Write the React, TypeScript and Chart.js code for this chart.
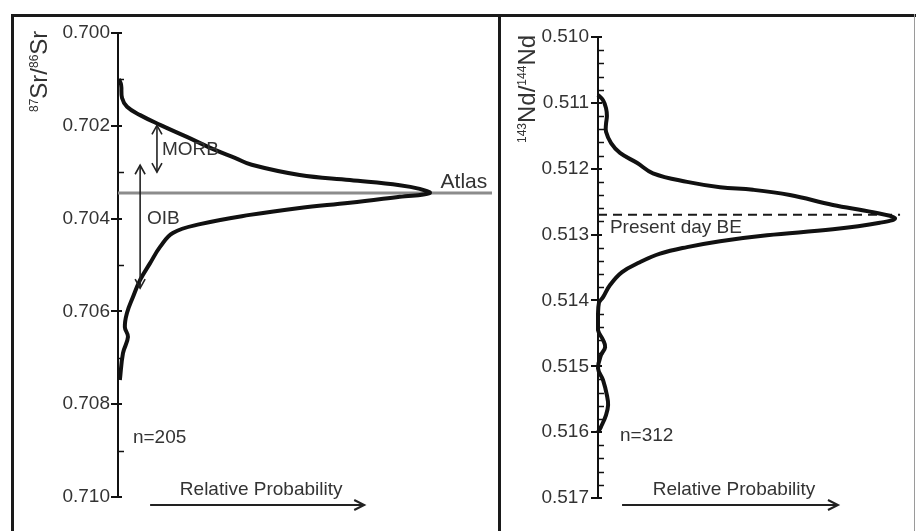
import React, { useEffect, useRef } from 'react';
import { Chart, registerables } from 'chart.js';

Chart.register(...registerables);

const FONT = '"Liberation Sans", Arial, Helvetica, sans-serif';
const TEXT = '#333';
const INK = '#111';

// ---------- Left panel: 87Sr/86Sr ----------
const srRatio = [
  0.70099, 0.70112, 0.7014, 0.70159, 0.70177, 0.70198, 0.70224, 0.70252, 0.70269, 0.70284,
  0.70306, 0.70317, 0.70328, 0.70336, 0.70345, 0.70353, 0.70366, 0.70377, 0.70392, 0.70412,
  0.70431, 0.70461, 0.70496, 0.70532, 0.70569, 0.70603, 0.70634, 0.70655, 0.7069, 0.70748,
];
const srProb = [
  0.003, 0.01, 0.013, 0.029, 0.071, 0.135, 0.221, 0.311, 0.375, 0.429,
  0.583, 0.744, 0.904, 0.968, 1.0, 0.904, 0.744, 0.583, 0.423, 0.263,
  0.176, 0.135, 0.103, 0.071, 0.048, 0.029, 0.022, 0.032, 0.016, 0.006,
];
const srMajorTicks = [0.7, 0.702, 0.704, 0.706, 0.708, 0.71];
const srMinorTicks = [0.701, 0.703, 0.705, 0.707, 0.709];
const srAtlas = 0.70345;
const srN = 'n=205';

// ---------- Right panel: 143Nd/144Nd ----------
const ndRatio = [
  0.51088, 0.51096, 0.51108, 0.5112, 0.51132, 0.51144, 0.51161, 0.51176, 0.51191, 0.51207,
  0.5122, 0.51228, 0.51232, 0.5124, 0.51255, 0.51266, 0.51275, 0.51282, 0.51292, 0.51301,
  0.5131, 0.51319, 0.51329, 0.51342, 0.51357, 0.51377, 0.51395, 0.51404, 0.51422, 0.51445,
  0.5146, 0.51471, 0.51483, 0.51503, 0.51521, 0.51544, 0.51559, 0.51574, 0.51592, 0.516,
];
const ndProb = [
  0, 0.017, 0.027, 0.03, 0.027, 0.027, 0.044, 0.074, 0.131, 0.185,
  0.3, 0.411, 0.522, 0.646, 0.791, 0.926, 1.0, 0.949, 0.791, 0.569,
  0.411, 0.3, 0.209, 0.141, 0.081, 0.04, 0.017, 0.003, 0, 0,
  0.017, 0.024, 0.01, 0, 0.017, 0.03, 0.034, 0.027, 0.01, 0,
];
const ndMajorTicks = [0.51, 0.511, 0.512, 0.513, 0.514, 0.515, 0.516, 0.517];
const ndMinorTicks = [
  0.5102, 0.5104, 0.5106, 0.5108, 0.5112, 0.5114, 0.5116, 0.5118,
  0.5122, 0.5124, 0.5126, 0.5128, 0.5132, 0.5134, 0.5136, 0.5138,
  0.5142, 0.5144, 0.5146, 0.5148, 0.5152, 0.5154, 0.5156, 0.5158,
  0.5162, 0.5164, 0.5166, 0.5168,
];
const ndBE = 0.5127;
const ndN = 'n=312';

type Label = { text: string; x: number; y: number; size: number; align?: CanvasTextAlign };
type VArrow = { x: number; y0: number; y1: number };
type TitlePart = { t: string; sup: boolean };

type PanelCfg = {
  major: number[];
  minor: number[];
  labels: Label[];
  arrows: VArrow[];
  probArrow: { x0: number; x1: number; y: number; textY: number };
  title: { parts: TitlePart[]; baseX: number; startY: number };
};

function arrowHead(ctx: CanvasRenderingContext2D, x: number, y: number, dx: number, dy: number, len: number, half: number) {
  const px = -dy, py = dx;
  ctx.beginPath();
  ctx.moveTo(x - dx * len + px * half, y - dy * len + py * half);
  ctx.lineTo(x, y);
  ctx.lineTo(x - dx * len - px * half, y - dy * len - py * half);
  ctx.stroke();
}

function makeDecor(cfg: PanelCfg) {
  return {
    id: 'decor',
    afterDraw(chart: any) {
      const { ctx, chartArea } = chart;
      const xs = chart.scales.x;
      const ys = chart.scales.y;
      const ax = chartArea.left;
      ctx.save();
      ctx.lineCap = 'butt';
      // tick marks
      ctx.strokeStyle = INK;
      ctx.lineWidth = 2;
      cfg.major.forEach((v) => {
        const py = Math.round(ys.getPixelForValue(v));
        ctx.beginPath();
        ctx.moveTo(ax - 7, py);
        ctx.lineTo(ax + 4, py);
        ctx.stroke();
      });
      ctx.lineWidth = 1.5;
      cfg.minor.forEach((v) => {
        const py = Math.round(ys.getPixelForValue(v)) + 0.5;
        ctx.beginPath();
        ctx.moveTo(ax - 1, py);
        ctx.lineTo(ax + 6, py);
        ctx.stroke();
      });

      // vertical double arrows
      ctx.strokeStyle = '#222';
      ctx.lineWidth = 1.6;
      cfg.arrows.forEach((a) => {
        const px = xs.getPixelForValue(a.x);
        const p0 = ys.getPixelForValue(a.y0);
        const p1 = ys.getPixelForValue(a.y1);
        ctx.beginPath();
        ctx.moveTo(px, p0);
        ctx.lineTo(px, p1);
        ctx.stroke();
        arrowHead(ctx, px, p0, 0, -1, 9, 5);
        arrowHead(ctx, px, p1, 0, 1, 9, 5);
      });

      // text labels
      ctx.fillStyle = TEXT;
      ctx.textBaseline = 'middle';
      cfg.labels.forEach((l) => {
        ctx.font = `${l.size}px ${FONT}`;
        ctx.textAlign = l.align || 'left';
        ctx.fillText(l.text, xs.getPixelForValue(l.x), ys.getPixelForValue(l.y));
      });

      // relative probability arrow
      const pa = cfg.probArrow;
      const ax0 = xs.getPixelForValue(pa.x0);
      const ax1 = xs.getPixelForValue(pa.x1);
      const ay = Math.round(ys.getPixelForValue(pa.y));
      ctx.strokeStyle = '#222';
      ctx.lineWidth = 2;
      ctx.beginPath();
      ctx.moveTo(ax0, ay);
      ctx.lineTo(ax1, ay);
      ctx.stroke();
      arrowHead(ctx, ax1, ay, 1, 0, 10, 5);
      ctx.font = `19px ${FONT}`;
      ctx.textAlign = 'center';
      ctx.fillText('Relative Probability', (ax0 + ax1) / 2 + 4, ys.getPixelForValue(pa.textY));

      // rotated axis title with superscripts
      const t = cfg.title;
      ctx.translate(t.baseX, t.startY);
      ctx.rotate(-Math.PI / 2);
      ctx.textAlign = 'left';
      ctx.textBaseline = 'alphabetic';
      let pos = 0;
      t.parts.forEach((p) => {
        ctx.font = p.sup ? `12px ${FONT}` : `24px ${FONT}`;
        ctx.fillText(p.t, pos, p.sup ? -9 : 0);
        pos += ctx.measureText(p.t).width;
      });
      ctx.restore();
    },
  };
}

function buildChart(
  canvas: HTMLCanvasElement,
  ratio: number[],
  prob: number[],
  refLine: { y: number; xMax: number; color: string; width: number; dash: number[] },
  axis: { min: number; max: number; xMax: number; width: number; pad: { top: number; right: number; bottom: number }; labelPad: number; major: number[] },
  cfg: PanelCfg,
) {
  return new Chart(canvas, {
    type: 'scatter',
    data: {
      datasets: [
        {
          data: ratio.map((y, i) => ({ x: prob[i], y })),
          showLine: true,
          borderColor: INK,
          borderWidth: 4,
          pointRadius: 0,
          tension: 0.4,
          clip: false,
        } as any,
        {
          data: [
            { x: 0, y: refLine.y },
            { x: refLine.xMax, y: refLine.y },
          ],
          showLine: true,
          borderColor: refLine.color,
          borderWidth: refLine.width,
          borderDash: refLine.dash,
          pointRadius: 0,
          clip: false,
        } as any,
      ],
    },
    options: {
      animation: false,
      responsive: false,
      devicePixelRatio: 1,
      events: [],
      layout: { padding: { left: 0, top: axis.pad.top, right: axis.pad.right, bottom: axis.pad.bottom } },
      plugins: { legend: { display: false }, tooltip: { enabled: false } },
      scales: {
        x: { type: 'linear', display: false, min: 0, max: axis.xMax },
        y: {
          type: 'linear',
          reverse: true,
          min: axis.min,
          max: axis.max,
          afterFit: (s: any) => {
            s.width = axis.width;
          },
          afterBuildTicks: (s: any) => {
            s.ticks = axis.major.map((v) => ({ value: v }));
          },
          ticks: {
            font: { size: 19, family: FONT },
            color: TEXT,
            padding: axis.labelPad,
            callback: (v: any) => Number(v).toFixed(3),
          },
          grid: { display: false, drawTicks: false, tickLength: 0 },
          border: { display: true, color: INK, width: 2 },
        },
      },
    } as any,
    plugins: [makeDecor(cfg)],
  });
}

export default function App() {
  const leftRef = useRef<HTMLCanvasElement>(null);
  const rightRef = useRef<HTMLCanvasElement>(null);

  useEffect(() => {
    const left = buildChart(
      leftRef.current!,
      srRatio,
      srProb,
      { y: srAtlas, xMax: 1.2, color: '#8c8c8c', width: 3, dash: [] },
      { min: 0.7, max: 0.71, xMax: 1.2, width: 118, pad: { top: 33, right: 8, bottom: 34 }, labelPad: 8, major: srMajorTicks },
      {
        major: srMajorTicks,
        minor: srMinorTicks,
        labels: [
          { text: 'MORB', x: 0.141, y: 0.70252, size: 19 },
          { text: 'OIB', x: 0.093, y: 0.704, size: 19 },
          { text: 'Atlas', x: 1.035, y: 0.70321, size: 21 },
          { text: srN, x: 0.048, y: 0.70873, size: 19 },
        ],
        arrows: [
          { x: 0.125, y0: 0.70199, y1: 0.7030 },
          { x: 0.071, y0: 0.70285, y1: 0.7055 },
        ],
        probArrow: { x0: 0.103, x1: 0.79, y: 0.71017, textY: 0.70985 },
        title: {
          parts: [
            { t: '87', sup: true },
            { t: 'Sr/', sup: false },
            { t: '86', sup: true },
            { t: 'Sr', sup: false },
          ],
          baseX: 47,
          startY: 112,
        },
      },
    );
    const right = buildChart(
      rightRef.current!,
      ndRatio,
      ndProb,
      { y: ndBE, xMax: 1.017, color: '#1a1a1a', width: 2, dash: [9, 6] },
      { min: 0.51, max: 0.517, xMax: 1.0505, width: 98, pad: { top: 37, right: 6, bottom: 33 }, labelPad: 9, major: ndMajorTicks },
      {
        major: ndMajorTicks,
        minor: ndMinorTicks,
        labels: [
          { text: 'Present day BE', x: 0.04, y: 0.5129, size: 19 },
          { text: ndN, x: 0.074, y: 0.51606, size: 19 },
        ],
        arrows: [],
        probArrow: { x0: 0.081, x1: 0.808, y: 0.51711, textY: 0.51688 },
        title: {
          parts: [
            { t: '143', sup: true },
            { t: 'Nd/', sup: false },
            { t: '144', sup: true },
            { t: 'Nd', sup: false },
          ],
          baseX: 35,
          startY: 143,
        },
      },
    );
    return () => {
      left.destroy();
      right.destroy();
    };
  }, []);

  const bar = (l: number, t: number, w: number, h: number, c: string): React.CSSProperties => ({
    position: 'absolute',
    left: l,
    top: t,
    width: w,
    height: h,
    background: c,
    pointerEvents: 'none',
  });

  return (
    <div style={{ position: 'absolute', left: 0, top: 0, width: 916, height: 531, background: '#fff', overflow: 'hidden' }}>
      <canvas ref={leftRef} width={500} height={531} style={{ position: 'absolute', left: 0, top: 0 }} />
      <canvas ref={rightRef} width={416} height={531} style={{ position: 'absolute', left: 500, top: 0 }} />
      <div style={bar(11, 14, 905, 3, '#1a1a1a')} />
      <div style={bar(11, 14, 3, 517, '#1a1a1a')} />
      <div style={bar(498, 14, 3, 517, '#1a1a1a')} />
      <div style={bar(914, 14, 1, 517, '#9a9a9a')} />
    </div>
  );
}
